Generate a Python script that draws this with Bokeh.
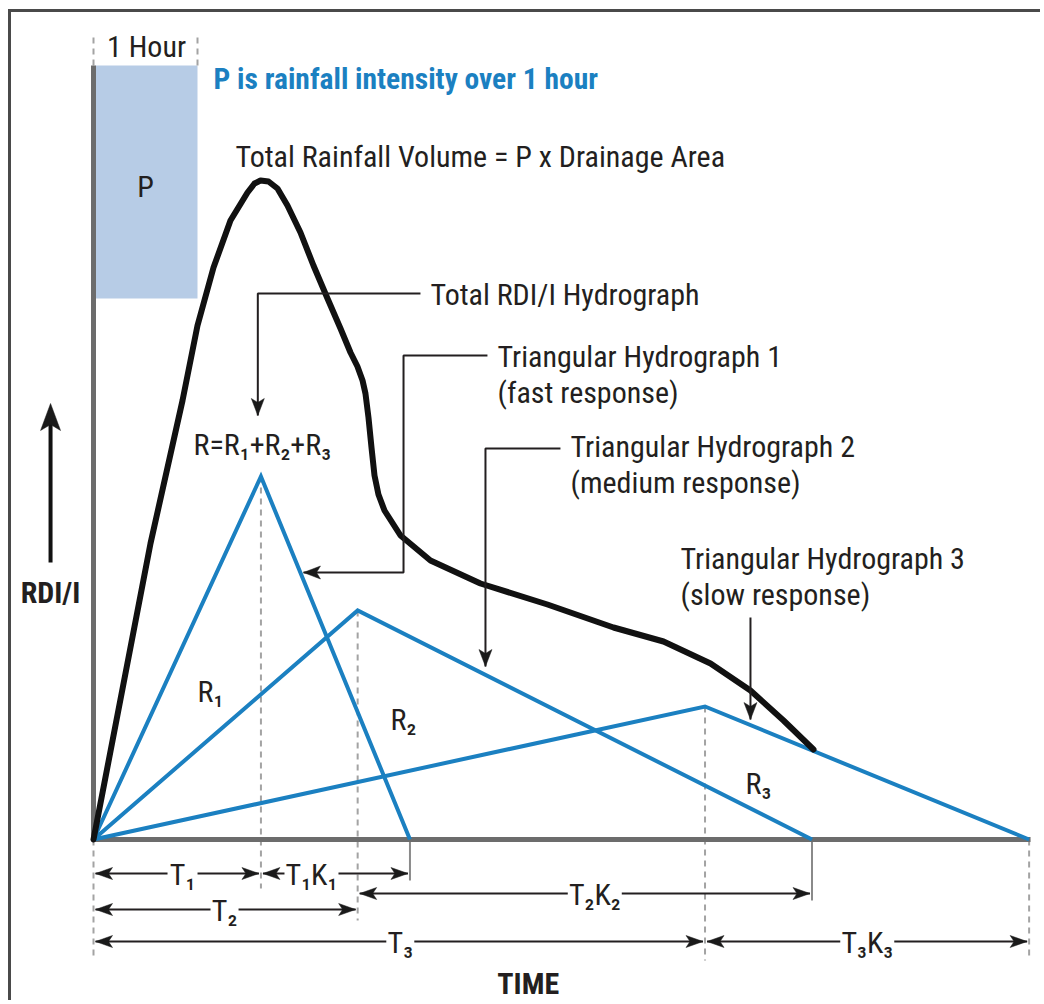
from bokeh.plotting import figure
from bokeh.models import Range1d
from bokeh.core.properties import value
from bokeh.embed import file_html
from bokeh.resources import INLINE

# ---------------- data (time in hours, RDI/I in relative units) ----------------
hydro_labels = ["R₁", "R₂", "R₃"]
T = [1.61, 2.54, 5.88]          # time to peak of each triangular hydrograph
K = [0.89, 1.72, 0.53]          # recession ratio (recession time = T*K)
R_peak = [3.63, 2.29, 1.33]     # peak of each triangular hydrograph

rain_span = [0.0, 1.0]          # 1 hour rainfall block
rain_level = [5.41, 7.74]       # bottom / top of rainfall block

total_t = [0.0, 0.548, 0.856, 1.000, 1.154, 1.317, 1.481, 1.548, 1.606, 1.683,
           1.769, 1.865, 1.990, 2.115, 2.250, 2.375, 2.471, 2.538, 2.587, 2.615,
           2.644, 2.673, 2.702, 2.740, 2.798, 2.952, 3.240, 3.721, 4.365, 5.000,
           5.481, 5.933, 6.317, 6.635, 6.923]
total_q = [0.0, 2.96, 4.39, 5.14, 5.72, 6.19, 6.47, 6.56, 6.59, 6.58,
           6.51, 6.34, 6.07, 5.74, 5.41, 5.11, 4.87, 4.73, 4.59, 4.46,
           4.22, 3.92, 3.64, 3.45, 3.29, 3.04, 2.79, 2.56, 2.35, 2.12,
           1.98, 1.76, 1.49, 1.19, 0.90]

time_axis_end = 9.01
rdi_axis_top = 7.74

ends = [t * (1 + k) for t, k in zip(T, K)]

# ---------------- layout ----------------
W, H = 1040, 1000
SX, SY = 104.0, 100.0           # screen px per hour / per unit
x0 = -93 / SX
y1 = 839 / SY
TEXT_DY = 0.095                 # baseline correction
FONT = "Roboto Condensed, Liberation Sans Narrow, Roboto"
DARK = "#231f20"
BLUE = "#1b80c1"
GREY = "#6c6c6c"
DASH = "#a3a3a3"

p = figure(width=W, height=H, x_range=Range1d(x0, x0 + W / SX),
           y_range=Range1d(y1 - H / SY, y1), output_backend="svg",
           toolbar_location=None, x_axis_type=None, y_axis_type=None,
           min_border=0)
p.grid.visible = False
p.outline_line_color = None
p.background_fill_color = "white"
p.border_fill_color = "white"

# frame (left + top)
fx = x0 + 9 / SX
fy = y1 - 10 / SY
p.line([fx, fx], [fy + 1.5 / SY, y1 - H / SY - 1], line_color="#4a4a4a", line_width=3)
p.line([fx - 1.5 / SX, x0 + W / SX + 1], [fy, fy], line_color="#4a4a4a", line_width=3)


def head(x, y, dx, dy, length=17, half=6, notch=4):
    bx, by = -dx, -dy
    qx, qy = -dy, dx
    pts = [(0, 0), (bx * length + qx * half, by * length + qy * half),
           (bx * (length - notch), by * (length - notch)),
           (bx * length - qx * half, by * length - qy * half)]
    return [x + a / SX for a, b in pts], [y + b / SY for a, b in pts]


heads_x, heads_y = [], []


def add_head(*args, **kw):
    hx, hy = head(*args, **kw)
    heads_x.append(hx)
    heads_y.append(hy)


def txt(x, y, s, size=30, align="left", bold=False, color=DARK):
    p.text(x=[x], y=[y + TEXT_DY], text=[s], text_font=value(FONT),
           text_font_size=f"{size}px", text_align=align,
           text_baseline="alphabetic", text_color=color,
           text_font_style="bold" if bold else "normal")


# rainfall block
p.quad(left=[rain_span[0] + 2 / SX], right=[rain_span[1]], bottom=[rain_level[0]],
       top=[rain_level[1]], fill_color="#b7cce6", line_color=None)

# dashed guides
gx = [0, T[0], T[1], T[2], ends[2], 0, rain_span[1]]
gy0 = [0, R_peak[0], R_peak[1], R_peak[2], 0, rain_level[1], rain_level[1]]
gy1 = [-1.21, -0.49, -0.81, -1.21, -1.21, 8.07, 8.07]
p.segment(x0=gx, y0=gy0, x1=gx, y1=gy1, line_color=DASH, line_width=2,
          line_dash="6 5")
# solid ticks at triangle ends
p.segment(x0=[ends[0], ends[1]], y0=[0, 0], x1=[ends[0], ends[1]],
          y1=[-0.41, -0.61], line_color="#8a8a8a", line_width=2)

# axes
p.line([0, 0], [0, rdi_axis_top], line_color=GREY, line_width=5)
p.line([0, time_axis_end], [0, 0], line_color=GREY, line_width=5)

# triangular hydrographs
p.multi_line(xs=[[0, t, e] for t, e in zip(T, ends)],
             ys=[[0, r, 0] for r in R_peak], line_color=BLUE, line_width=4,
             line_join="miter")

# total hydrograph
p.line(total_t, total_q, line_color="#111111", line_width=6,
       line_join="round", line_cap="round")

# dimension arrows
dims = [
    (0, T[0], -0.34, "T₁", 0.856, 15),
    (T[0], ends[0], -0.34, "T₁K₁", 2.096, 27),
    (0, T[1], -0.70, "T₂", 1.26, 14),
    (T[1], ends[1], -0.54, "T₂K₂", 4.82, 27),
    (0, T[2], -1.02, "T₃", 2.95, 14),
    (T[2], ends[2], -1.02, "T₃K₃", 7.44, 27),
]
inset = 2 / SX
for a, b, row, lab, c, hg in dims:
    p.line([a + inset, c - hg / SX], [row, row], line_color=DARK, line_width=2)
    p.line([c + hg / SX, b - inset], [row, row], line_color=DARK, line_width=2)
    add_head(a + inset, row, -1, 0)
    add_head(b - inset, row, 1, 0)
    txt(c, row - 0.105, lab, align="center")

# callouts
callouts = [
    [(3.144, 5.46), (1.58, 5.46), (1.58, 4.24)],
    [(3.788, 4.84), (2.981, 4.84), (2.981, 2.67), (2.019, 2.67)],
    [(4.490, 3.91), (3.769, 3.91), (3.769, 1.73)],
    [(6.317, 2.22), (6.317, 1.20)],
]
for pts in callouts:
    p.line([q[0] for q in pts], [q[1] for q in pts], line_color=DARK, line_width=2)
    (ax, ay), (bx, by) = pts[-2], pts[-1]
    dx = (bx - ax) * SX
    dy = (by - ay) * SY
    n = (dx * dx + dy * dy) ** 0.5
    add_head(bx, by, dx / n, dy / n, length=17, half=6.5, notch=4)

# RDI/I arrow
p.line([-0.413, -0.413], [2.77, 4.2], line_color="#111111", line_width=4)
add_head(-0.413, 4.36, 0, 1, length=27, half=10, notch=6)

p.patches(heads_x, heads_y, fill_color="#1a1a1a", line_color="#1a1a1a",
          line_width=0.5)

# texts
txt(0.51, 7.84, "1 Hour", align="center")
txt(0.5, 6.44, "P", align="center")
txt(1.154, 7.51, "P is rainfall intensity over 1 hour", size=29.5, bold=True, color=BLUE)
txt(1.365, 6.74, "Total Rainfall Volume = P x Drainage Area")
txt(3.24, 5.36, "Total RDI/I Hydrograph")
txt(3.885, 4.74, "Triangular Hydrograph 1")
txt(3.885, 4.38, "(fast response)")
txt(4.587, 3.84, "Triangular Hydrograph 2")
txt(4.587, 3.48, "(medium response)")
txt(5.644, 2.72, "Triangular Hydrograph 3")
txt(5.644, 2.36, "(slow response)")
txt(0.962, 3.86, "R=" + "+".join(hydro_labels))
txt(1.0, 1.39, hydro_labels[0])
txt(2.856, 1.11, hydro_labels[1])
txt(6.269, 0.47, hydro_labels[2])
txt(-0.413, 2.38, "RDI/I", bold=True, align="center")
txt(4.18, -1.53, "TIME", bold=True, align="center")

open("out.html", "w").write(file_html(p, INLINE))
